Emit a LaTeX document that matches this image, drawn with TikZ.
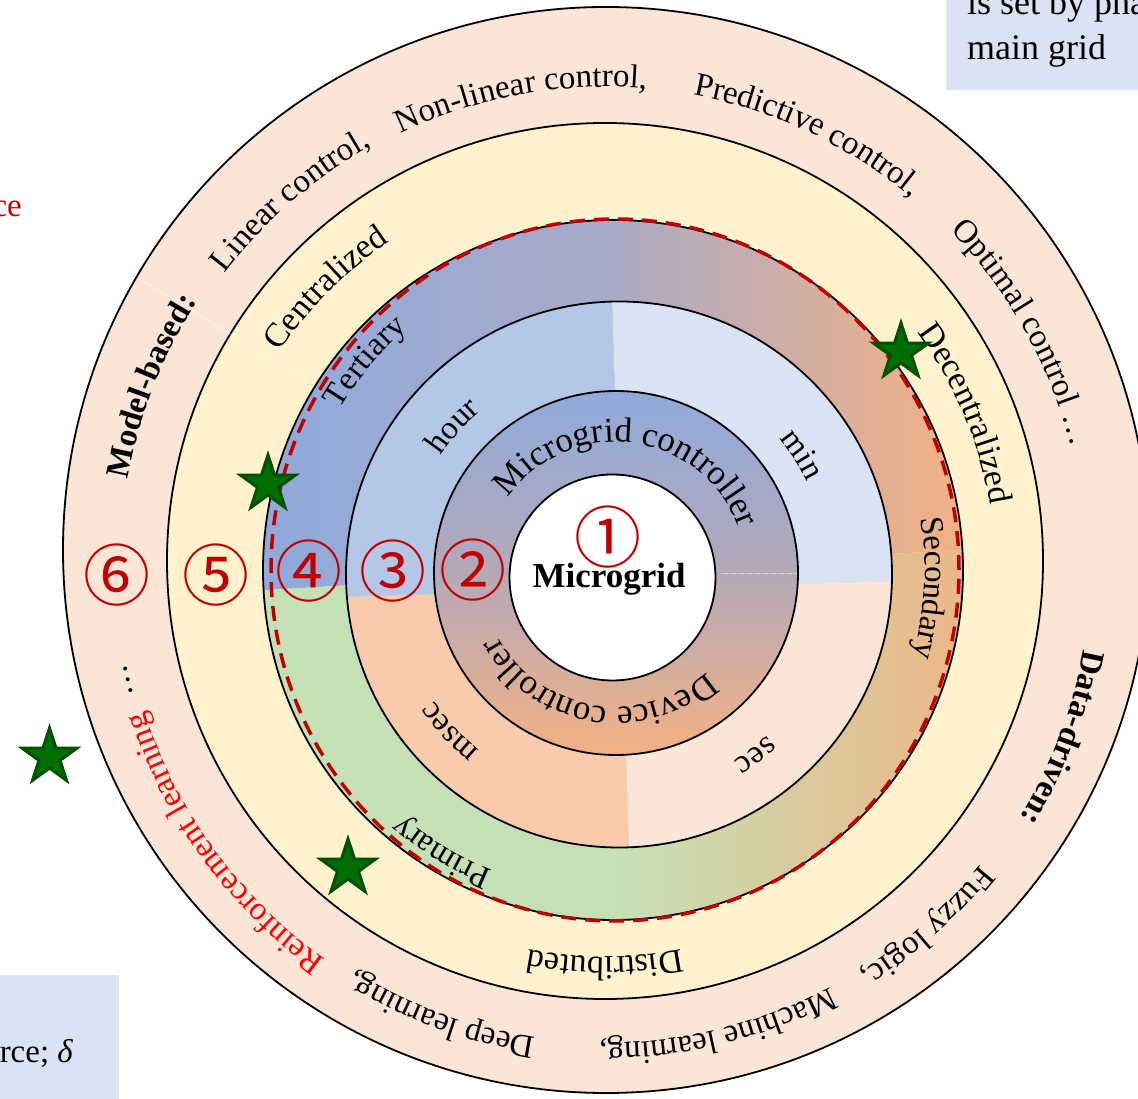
\documentclass[tikz,border=0pt]{standalone}
\usepackage{fontspec}
\setmainfont{Liberation Serif}
\newfontfamily\cjkfont{Noto Sans CJK SC}
\usetikzlibrary{decorations.text,shapes.geometric}
\definecolor{ringsix}{HTML}{FBE5D6}
\definecolor{ringfive}{HTML}{FFF2CC}
\definecolor{tblue}{HTML}{8FAADC}
\definecolor{torange}{HTML}{F4B183}
\definecolor{tmid}{HTML}{A9AAC8}
\definecolor{tmidv}{HTML}{B4A9B8}
\definecolor{tgreen}{HTML}{C5E0B4}
\definecolor{ttan}{HTML}{EDB687}
\definecolor{qhour}{HTML}{B4C7E7}
\definecolor{qmin}{HTML}{DAE3F3}
\definecolor{qmsec}{HTML}{F8CBAD}
\definecolor{qsec}{HTML}{FBE5D6}
\definecolor{dred}{HTML}{C00000}
\definecolor{stargreen}{HTML}{006E00}
\definecolor{stardark}{HTML}{005200}
\definecolor{boxblue}{HTML}{DAE3F3}
\newcommand\myfA{\fontsize{33}{40}\selectfont}
\newcommand\myfB{\fontsize{33}{40}\selectfont\bfseries}
\newcommand\myfC{\fontsize{34}{40}\selectfont}
\newcommand\myfD{\fontsize{36}{42}\selectfont}
\newcommand\myfE{\fontsize{35}{40}\selectfont}
\newcommand\myfM{\fontsize{35}{40}\selectfont\bfseries}
\newcommand\myarctext[5]{\path[decorate,decoration={text along path,text align=center,text={#5}}] (#1) ++(#3+#4:#2) arc[start angle=#3+#4,end angle=#3-#4,radius=#2];}
\begin{document}
\begin{tikzpicture}[x=1pt,y=1pt,
  ring/.style={draw=black,line width=1.8pt},
  cnum/.style={text=dred,font=\cjkfont\fontsize{67}{70}\selectfont,inner sep=0pt},
  gstar/.style={star,star points=5,star point ratio=2.618,minimum size=58pt,inner sep=0pt,fill=stargreen,draw=stardark,line width=3pt},
  plain/.style={inner sep=0pt,font=\myfA}]
\useasboundingbox (0,0) rectangle (1138,1098);
\clip (0,0) rectangle (1138,1098);
\fill[white] (0,0) rectangle (1138,1098);
\coordinate (c1) at (612.5,520.5);
\coordinate (c2) at (616,525);
\coordinate (c3) at (619,523.5);
\coordinate (c4) at (613,528);
\coordinate (c5) at (605,537);
\coordinate (c6) at (606,548);
\coordinate (t6) at (606,533);
\coordinate (t5) at (605,531);
\coordinate (qp) at (621,509);
% outer rings
\filldraw[ring,fill=ringsix] (c6) circle[radius=543];
\filldraw[ring,fill=ringfive] (c5) circle[radius=438];
\draw[white,line width=0.7pt,opacity=0.6] (c5) ++(148.8:345) -- ++(148.8:200);
% ring 4
\shade[left color=tblue,right color=torange,middle color=tmid] (c4) ++(3.3:350) arc[start angle=3.3,end angle=183.3,radius=350] -- cycle;
\shade[left color=tgreen,right color=ttan,middle color=tgreen] (c4) ++(183.3:350) arc[start angle=183.3,end angle=363.3,radius=350] -- cycle;
\draw[ring] (c4) circle[radius=350];
% ring 3
\begin{scope}
\clip (c3) circle[radius=273];
\fill[qhour] (qp) -- (608,929) -- (201,929) -- (201,497) -- cycle;
\fill[qmin] (qp) -- (608,929) -- (1041,929) -- (1041,521) -- cycle;
\fill[qmsec] (qp) -- (201,497) -- (201,89) -- (634,89) -- cycle;
\fill[qsec] (qp) -- (634,89) -- (1041,89) -- (1041,521) -- cycle;
\end{scope}
\draw[ring] (c3) circle[radius=273];
% ring 2
\shade[top color=tblue,bottom color=torange,middle color=tmidv] (c2) circle[radius=182];
\draw[ring] (c2) circle[radius=182];
\draw[white,densely dotted,line width=0.6pt,opacity=0.6] (c2) ++(0:105) -- ++(0:76);
% centre
\filldraw[ring,fill=white] (c1) circle[radius=103];
% red dashed boundary
\draw[dred,line width=3.5pt,dash pattern=on 15pt off 9pt] (615,528) ellipse[x radius=344,y radius=351];
% outer ring texts
\myarctext{t6}{486}{158.5}{40}{|\myfB|Model-based:}
\myarctext{t6}{480}{130.9}{40}{|\myfA|Linear control,}
\myarctext{t6}{478}{100.3}{40}{|\myfA|Non-linear control,}
\myarctext{t6}{478}{64.9}{40}{|\myfA|Predictive control,}
\myarctext{t6}{480}{29.2}{40}{|\myfA|Optimal control …}
\myarctext{t6}{485}{-20.7}{40}{|\myfB|Data-driven:}
\myarctext{t6}{480}{-48.4}{40}{|\myfA|Fuzzy logic,}
\myarctext{t6}{478}{-76.4}{40}{|\myfA|Machine learning,}
\myarctext{t6}{478}{-110.1}{40}{|\myfA|Deep learning,}
\myarctext{t6}{484}{-143.9}{40}{|\myfA\color{red}|Reinforcement learning}
\myarctext{t6}{490}{-166.5}{20}{|\myfA|…}
% ring 5 texts
\myarctext{t5}{390}{135}{40}{|\myfC|Centralized}
\myarctext{t5}{390}{23}{40}{|\myfC|Decentralized}
\myarctext{t5}{390}{-90}{40}{|\myfC|Distributed}
% ring 4 texts
\myarctext{c4}{317}{139.9}{40}{|\myfA|Tertiary}
\myarctext{c4}{312}{-3.3}{40}{|\myfA|Secondary}
\myarctext{c4}{324}{-121.3}{40}{|\myfA|Primary}
% ring 3 texts
\myarctext{c3}{214}{138.2}{40}{|\myfA|hour}
\myarctext{c3}{210}{33.1}{40}{|\myfA|min}
\myarctext{c3}{224}{-137}{40}{|\myfA|msec}
\myarctext{c3}{219}{-53}{40}{|\myfA|sec}
% ring 2 texts
\myarctext{c2}{131}{82.5}{85}{|\myfE|Microgrid  controller}
\myarctext{c2}{134}{-99.5}{80}{|\myfE|Device controller}
% centre label
\node[inner sep=0pt,font=\myfM,anchor=base] (mg) at (609,510) {Microgrid};
% circled numbers
\node[cnum] (n1) at (608,561) {①};
\node[cnum] (n2) at (473,528) {②};
\node[cnum] (n3) at (393,527) {③};
\node[cnum] (n4) at (309,527) {④};
\node[cnum] (n5) at (216,523) {⑤};
\node[cnum] (n6) at (117,523) {⑥};
% stars
\node[gstar] (s1) at (49.5,341) {};
\node[gstar] (s2) at (348,230) {};
\node[gstar] (s3) at (268,614) {};
\node[gstar] (s4) at (901,746) {};
% cropped boxes and text
\fill[boxblue] (946,1008) rectangle (1140,1100);
\node[plain,font=\myfD,anchor=base west] (tb1) at (967,1083) {is set by pha};
\node[plain,font=\myfD,anchor=base west] (tb2) at (967,1038) {main grid};
\fill[boxblue] (-2,-2) rectangle (119,123);
\node[plain,anchor=base east] (bb1) at (73,36) {rce; {\itshape δ}};
\node[plain,text=dred,anchor=base east] (rc) at (22,881) {ce};
\end{tikzpicture}
\end{document}
